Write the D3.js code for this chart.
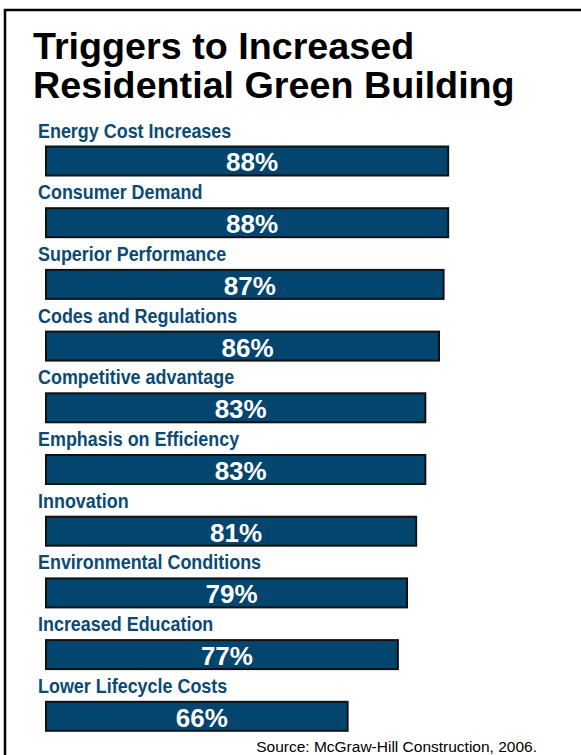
<!DOCTYPE html>
<html>
<head>
<meta charset="utf-8">
<script src="https://cdn.jsdelivr.net/npm/d3@7"></script>
<style>
  body { margin: 0; background: #fff; }
  svg { display: block; font-family: "Liberation Sans", Arial, sans-serif; }
</style>
</head>
<body>
<div id="chart"></div>
<script>
// data
const triggers = ["Energy Cost Increases", "Consumer Demand", "Superior Performance",
  "Codes and Regulations", "Competitive advantage", "Emphasis on Efficiency",
  "Innovation", "Environmental Conditions", "Increased Education", "Lower Lifecycle Costs"];
const shares = [88, 88, 87, 86, 83, 83, 81, 79, 77, 66];
const titleLines = ["Triggers to Increased", "Residential Green Building"];
const sourceNote = "Source: McGraw-Hill Construction, 2006.";

const width = 581, height = 755;

const svg = d3.select("#chart").append("svg")
  .attr("width", width)
  .attr("height", height);

// frame round the slide
svg.append("rect")
  .attr("x", 5).attr("y", 10)
  .attr("width", 640).attr("height", 800)
  .attr("fill", "none")
  .attr("stroke", "#000")
  .attr("stroke-width", 2.5);

// title
svg.append("g").selectAll("text")
  .data(titleLines)
  .enter().append("text")
  .attr("x", 33)
  .attr("y", (d, i) => 59 + i * 38.5)
  .attr("font-size", 37.7)
  .attr("font-weight", "bold")
  .attr("fill", "#000")
  .text(d => d);

const x = d3.scaleLinear()
  .domain([0, 100])
  .range([46, 503]);

// one row = label + bar, step of ~61.7px
const pad = 0.53, step = 61.7;
const y = d3.scaleBand()
  .domain(triggers)
  .range([146.5, 146.5 + step * (triggers.length - pad)])
  .paddingInner(pad)
  .paddingOuter(0);

const data = triggers.map((t, i) => ({name: t, value: shares[i]}));

const rows = svg.append("g").selectAll(".row")
  .data(data)
  .enter().append("g")
  .attr("class", "row");

// labels are a narrow bold face in the original, squeeze a bit
rows.append("text")
  .attr("transform", d => "translate(38," + (y(d.name) - 9) + ") scale(0.92,1)")
  .attr("font-size", 19.5)
  .attr("font-weight", "bold")
  .attr("fill", "#0b4a73")
  .text(d => d.name);

rows.append("rect")
  .attr("x", x(0))
  .attr("y", d => y(d.name))
  .attr("width", d => x(d.value) - x(0))
  .attr("height", y.bandwidth())
  .attr("fill", "#02456f")
  .attr("stroke", "#111")
  .attr("stroke-width", 2);

rows.append("text")
  .attr("x", d => (x(0) + x(d.value)) / 2 + 5)
  .attr("y", d => y(d.name) + y.bandwidth() - 4)
  .attr("text-anchor", "middle")
  .attr("font-size", 26)
  .attr("font-weight", "bold")
  .attr("fill", "#fff")
  .text(d => d.value + "%");

svg.append("text")
  .attr("x", 537)
  .attr("y", 752)
  .attr("text-anchor", "end")
  .attr("font-size", 15.5)
  .attr("fill", "#000")
  .text(sourceNote);
</script>
</body>
</html>
